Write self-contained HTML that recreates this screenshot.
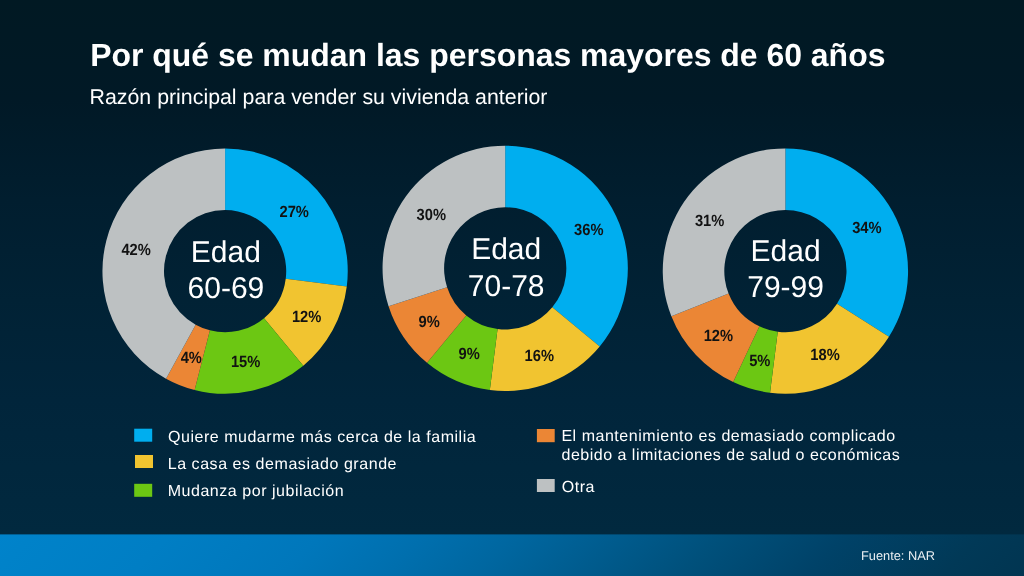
<!DOCTYPE html>
<html lang="es">
<head>
<meta charset="utf-8">
<title>Por qué se mudan las personas mayores de 60 años</title>
<style>
html,body{margin:0;padding:0;background:#02283e;}
body{width:1024px;height:576px;overflow:hidden;position:relative;font-family:"Liberation Sans",Arial,sans-serif;}
#bg{position:absolute;left:0;top:0;width:1024px;height:537px;background:linear-gradient(to bottom,#011923 0px,#011926 100px,#011e2f 200px,#012235 300px,#01253b 400px,#01293f 534px);}
#band{position:absolute;left:0;top:536px;width:1024px;height:42px;background:#00669f;}
svg{position:absolute;left:0;top:0;}
text{font-family:"Liberation Sans",Arial,sans-serif;text-rendering:geometricPrecision;}
.t{font-weight:bold;font-size:31.95px;fill:#fff;}
.s{font-size:21.35px;fill:#fff;}
.c{font-size:30px;fill:#fff;text-anchor:middle;}
.p{font-weight:bold;font-size:16.2px;text-rendering:geometricPrecision;fill:#121212;text-anchor:middle;}
.l{font-size:16px;fill:#fff;letter-spacing:0.555px;}
.f{font-size:12.8px;fill:#e9eef2;}
</style>
</head>
<body>
<div id="bg"></div>
<div id="band"></div>
<svg width="1024" height="576" viewBox="0 0 1024 576">
<defs><linearGradient id="bandg" gradientUnits="userSpaceOnUse" x1="0" y1="534" x2="533" y2="1067">
<stop offset="0" stop-color="rgb(0,131,203)"/>
<stop offset="0.0314" stop-color="rgb(0,130,201)"/>
<stop offset="0.1600" stop-color="rgb(0,126,196)"/>
<stop offset="0.3035" stop-color="rgb(0,119,187)"/>
<stop offset="0.4000" stop-color="rgb(0,111,174)"/>
<stop offset="0.4911" stop-color="rgb(0,102,159)"/>
<stop offset="0.5850" stop-color="rgb(0,91,141)"/>
<stop offset="0.6787" stop-color="rgb(0,80,123)"/>
<stop offset="0.7964" stop-color="rgb(0,66,104)"/>
<stop offset="0.9226" stop-color="rgb(1,57,87)"/>
<stop offset="1" stop-color="rgb(1,53,81)"/>
</linearGradient></defs>
<rect x="0" y="534.4" width="1024" height="42" fill="url(#bandg)"/>
<text class="t" x="90.2" y="65.6">Por qué se mudan las personas mayores de 60 años</text>
<text class="s" x="89.5" y="103.6">Razón principal para vender su vivienda anterior</text>
<path fill="#00AEEF" d="M225.10 148.50A122.65 122.65 0 0 1 346.78 286.52L285.72 278.81A61.1 61.1 0 0 0 225.10 210.05Z"/>
<path fill="#F1C430" d="M346.78 286.52A122.65 122.65 0 0 1 303.28 365.65L264.05 318.23A61.1 61.1 0 0 0 285.72 278.81Z"/>
<path fill="#6CC713" d="M303.28 365.65A122.65 122.65 0 0 1 194.60 389.95L209.91 330.33A61.1 61.1 0 0 0 264.05 318.23Z"/>
<path fill="#EB8635" d="M194.60 389.95A122.65 122.65 0 0 1 166.01 378.63L195.66 324.69A61.1 61.1 0 0 0 209.91 330.33Z"/>
<path fill="#BDC1C2" d="M166.01 378.63A122.65 122.65 0 0 1 225.10 148.50L225.10 210.05A61.1 61.1 0 0 0 195.66 324.69Z"/>
<text class="p" transform="translate(294.2 216.5) scale(0.908 1)">27%</text>
<text class="p" transform="translate(306.6 321.9) scale(0.908 1)">12%</text>
<text class="p" transform="translate(245.6 367.2) scale(0.908 1)">15%</text>
<text class="p" transform="translate(191.3 363.0) scale(0.908 1)">4%</text>
<text class="p" transform="translate(136.1 254.8) scale(0.908 1)">42%</text>
<text class="c" x="225.9" y="261.85">Edad</text>
<text class="c" x="225.9" y="297.9">60-69</text>
<path fill="#00AEEF" d="M505.20 145.70A122.65 122.65 0 0 1 599.70 346.53L552.28 307.30A61.1 61.1 0 0 0 505.20 207.25Z"/>
<path fill="#F1C430" d="M599.70 346.53A122.65 122.65 0 0 1 489.83 390.03L497.54 328.97A61.1 61.1 0 0 0 552.28 307.30Z"/>
<path fill="#6CC713" d="M489.83 390.03A122.65 122.65 0 0 1 427.02 362.85L466.25 315.43A61.1 61.1 0 0 0 497.54 328.97Z"/>
<path fill="#EB8635" d="M427.02 362.85A122.65 122.65 0 0 1 388.55 306.25L447.09 287.23A61.1 61.1 0 0 0 466.25 315.43Z"/>
<path fill="#BDC1C2" d="M388.55 306.25A122.65 122.65 0 0 1 505.20 145.70L505.20 207.25A61.1 61.1 0 0 0 447.09 287.23Z"/>
<text class="p" transform="translate(588.8 235.4) scale(0.908 1)">36%</text>
<text class="p" transform="translate(539.3 360.7) scale(0.908 1)">16%</text>
<text class="p" transform="translate(469.1 358.9) scale(0.908 1)">9%</text>
<text class="p" transform="translate(429.2 327.0) scale(0.908 1)">9%</text>
<text class="p" transform="translate(431.3 220.4) scale(0.908 1)">30%</text>
<text class="c" x="506.2" y="259.4">Edad</text>
<text class="c" x="506.2" y="295.7">70-78</text>
<path fill="#00AEEF" d="M785.40 148.40A122.65 122.65 0 0 1 888.96 336.77L836.99 303.79A61.1 61.1 0 0 0 785.40 209.95Z"/>
<path fill="#F1C430" d="M888.96 336.77A122.65 122.65 0 0 1 770.03 392.73L777.74 331.67A61.1 61.1 0 0 0 836.99 303.79Z"/>
<path fill="#6CC713" d="M770.03 392.73A122.65 122.65 0 0 1 733.18 382.03L759.38 326.33A61.1 61.1 0 0 0 777.74 331.67Z"/>
<path fill="#EB8635" d="M733.18 382.03A122.65 122.65 0 0 1 671.36 316.20L728.59 293.54A61.1 61.1 0 0 0 759.38 326.33Z"/>
<path fill="#BDC1C2" d="M671.36 316.20A122.65 122.65 0 0 1 785.40 148.40L785.40 209.95A61.1 61.1 0 0 0 728.59 293.54Z"/>
<text class="p" transform="translate(866.9 233.2) scale(0.908 1)">34%</text>
<text class="p" transform="translate(825.0 360.0) scale(0.908 1)">18%</text>
<text class="p" transform="translate(759.8 365.8) scale(0.908 1)">5%</text>
<text class="p" transform="translate(718.4 340.9) scale(0.908 1)">12%</text>
<text class="p" transform="translate(709.6 225.6) scale(0.908 1)">31%</text>
<text class="c" x="785.6" y="260.7">Edad</text>
<text class="c" x="785.6" y="297.3">79-99</text>
<rect x="134.2" y="428.7" width="18" height="13" fill="#00AEEF"/>
<rect x="135" y="455" width="18" height="13" fill="#F1C430"/>
<rect x="134.2" y="483.8" width="18" height="13" fill="#6CC713"/>
<rect x="536.9" y="429" width="17.8" height="13.2" fill="#EB8635"/>
<rect x="536.9" y="479" width="17.8" height="13" fill="#BDC1C2"/>
<text class="l" style="letter-spacing:0.528px" x="168.0" y="441.5">Quiere mudarme más cerca de la familia</text>
<text class="l" x="167.7" y="468.5">La casa es demasiado grande</text>
<text class="l" style="letter-spacing:0.54px" x="167.7" y="495.5">Mudanza por jubilación</text>
<text class="l" style="letter-spacing:0.53px" x="561.4" y="440.8">El mantenimiento es demasiado complicado</text>
<text class="l" style="letter-spacing:0.49px" x="561.6" y="460.3">debido a limitaciones de salud o económicas</text>
<text class="l" x="561.7" y="491.9">Otra</text>
<text class="f" x="861.0" y="559.65">Fuente: NAR</text>
</svg>
</body>
</html>
